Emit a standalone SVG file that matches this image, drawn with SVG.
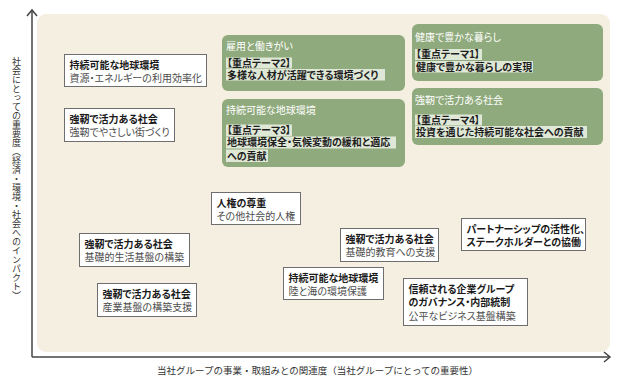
<svg xmlns="http://www.w3.org/2000/svg" width="624" height="387" viewBox="0 0 624 387">
<style>
text{font-family:"Liberation Sans","Noto Sans CJK JP",sans-serif;font-size:10px;}
.box{fill:#fff;stroke:#6e6e6e;stroke-width:1;}
.green{fill:#8faa7c;}
.hl{fill:#dfe8d6;}
.t{font-weight:bold;fill:#1a1a1a;font-feature-settings:"palt";}
.s{fill:#4d4d4d;font-feature-settings:"palt";}
.w{fill:#fff;font-feature-settings:"palt";}
.h{fill:#1e1e1e;font-weight:bold;font-feature-settings:"palt";}
.ax{fill:#333;font-size:9.5px;}
.axis{stroke:#444;stroke-width:1.5;fill:none;}
</style>
<rect x="37" y="14" width="573" height="338" rx="9" fill="#f4efe1"/>
<g id="connectors">
<line class="axis" x1="32" y1="10" x2="32" y2="357"/>
<polyline class="axis" points="27,16 32,10 37,16"/>
<line class="axis" x1="32" y1="357" x2="610" y2="357"/>
<polyline class="axis" points="604,352 610,357 604,362"/>
</g>
<g id="axis-labels">
<text class="ax" x="16" y="57" style="writing-mode:vertical-rl;font-size:9px">社会にとっての重要度（経済・環境・社会へのインパクト）</text>
<text class="ax" x="157" y="374">当社グループの事業・取組みとの関連度（当社グループにとっての重要性）</text>
</g>
<g id="theme2">
<rect class="green" x="222" y="35" width="183" height="56" rx="6"/>
<text class="w" x="226" y="50">雇用と働きがい</text>
<rect class="hl" x="226" y="57.5" width="66" height="11"/>
<rect class="hl" x="226" y="69" width="159" height="11.5"/>
<text class="h" x="227" y="66.5">【重点テーマ2】</text>
<text class="h" x="227" y="78.5">多様な人材が活躍できる環境づくり</text>
</g>
<g id="theme3">
<rect class="green" x="222" y="99" width="183" height="68" rx="6"/>
<text class="w" x="226" y="114">持続可能な地球環境</text>
<rect class="hl" x="226" y="124.5" width="66" height="11.5"/>
<rect class="hl" x="226" y="136.5" width="170" height="12"/>
<rect class="hl" x="226" y="149.5" width="42" height="12.5"/>
<text class="h" x="227" y="133.5">【重点テーマ3】</text>
<text class="h" x="227" y="146">地球環境保全・気候変動の緩和と適応</text>
<text class="h" x="227" y="159.5">への貢献</text>
</g>
<g id="theme1">
<rect class="green" x="412" y="24" width="191" height="57" rx="6"/>
<text class="w" x="415" y="40.5">健康で豊かな暮らし</text>
<rect class="hl" x="415" y="49" width="67" height="11"/>
<rect class="hl" x="415" y="61" width="118" height="11.5"/>
<text class="h" x="416" y="58">【重点テーマ1】</text>
<text class="h" x="416" y="70.5">健康で豊かな暮らしの実現</text>
</g>
<g id="theme4">
<rect class="green" x="412" y="88" width="191" height="57" rx="6"/>
<text class="w" x="415" y="104">強靭で活力ある社会</text>
<rect class="hl" x="415" y="114.5" width="67" height="11"/>
<rect class="hl" x="415" y="126" width="172" height="12"/>
<text class="h" x="416" y="123.5">【重点テーマ4】</text>
<text class="h" x="416" y="136">投資を通じた持続可能な社会への貢献</text>
</g>
<g id="n-resource">
<rect class="box" x="64.5" y="54.5" width="142" height="32"/>
<text class="t" x="69.5" y="69">持続可能な地球環境</text>
<text class="s" x="69.5" y="82">資源・エネルギーの利用効率化</text>
</g>
<g id="n-town">
<rect class="box" x="64.5" y="108.5" width="110" height="33"/>
<text class="t" x="69.5" y="123">強靭で活力ある社会</text>
<text class="s" x="69.5" y="136">強靭でやさしい街づくり</text>
</g>
<g id="n-human">
<rect class="box" x="211.5" y="192.5" width="89" height="32"/>
<text class="t" x="216.5" y="207">人権の尊重</text>
<text class="s" x="216.5" y="220">その他社会的人権</text>
</g>
<g id="n-life">
<rect class="box" x="79.5" y="233.5" width="110" height="33"/>
<text class="t" x="84.5" y="248">強靭で活力ある社会</text>
<text class="s" x="84.5" y="261">基礎的生活基盤の構築</text>
</g>
<g id="n-industry">
<rect class="box" x="97.5" y="283.5" width="99" height="33"/>
<text class="t" x="102.5" y="298">強靭で活力ある社会</text>
<text class="s" x="102.5" y="311">産業基盤の構築支援</text>
</g>
<g id="n-education">
<rect class="box" x="340.5" y="228.5" width="98" height="33"/>
<text class="t" x="345.5" y="243">強靭で活力ある社会</text>
<text class="s" x="345.5" y="256">基礎的教育への支援</text>
</g>
<g id="n-sea">
<rect class="box" x="283.5" y="267.5" width="100" height="32"/>
<text class="t" x="288.5" y="282">持続可能な地球環境</text>
<text class="s" x="288.5" y="295">陸と海の環境保護</text>
</g>
<g id="n-partner">
<rect class="box" x="461.5" y="218.5" width="124" height="32"/>
<text class="t" x="466.5" y="233">パートナーシップの活性化、</text>
<text class="t" x="466.5" y="246">ステークホルダーとの協働</text>
</g>
<g id="n-governance">
<rect class="box" x="403.5" y="278.5" width="124" height="47"/>
<text class="t" x="408.5" y="293">信頼される企業グループ</text>
<text class="t" x="408.5" y="306">のガバナンス・内部統制</text>
<text class="s" x="408.5" y="319.5">公平なビジネス基盤構築</text>
</g>
</svg>
